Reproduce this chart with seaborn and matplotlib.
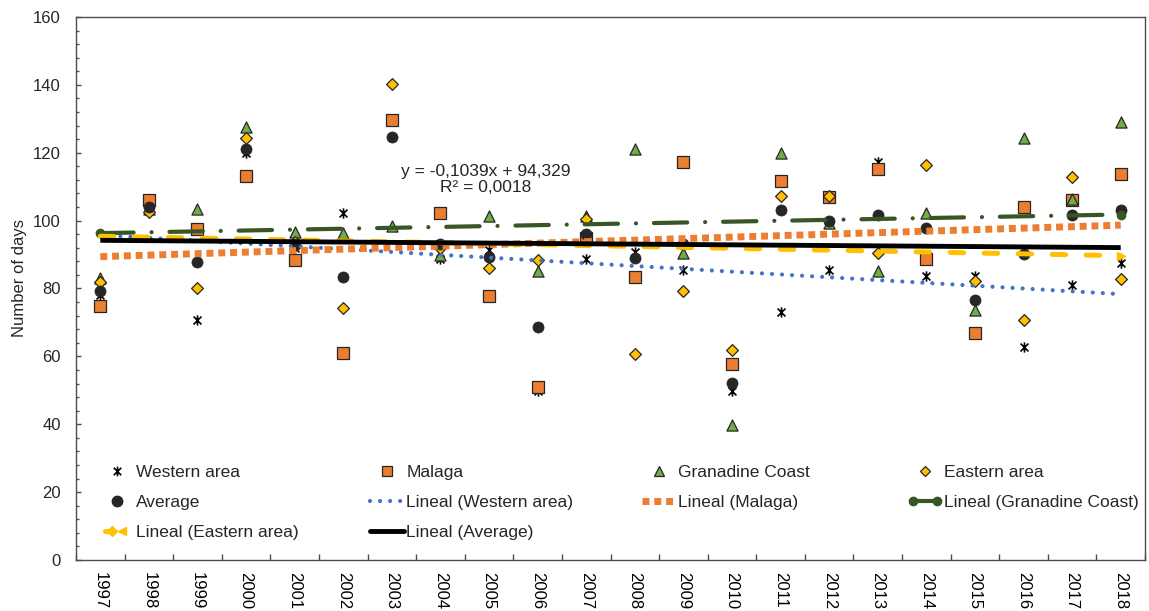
import numpy as np
import pandas as pd
import matplotlib
matplotlib.use("Agg")
import matplotlib.pyplot as plt
import seaborn as sns
from matplotlib.path import Path
from matplotlib.lines import Line2D
from matplotlib.legend_handler import HandlerLine2D, HandlerTuple
from matplotlib.ticker import MultipleLocator, FixedLocator

# ---------------- data ----------------
years = [1997, 1998, 1999, 2000, 2001, 2002, 2003, 2004, 2005, 2006, 2007,
         2008, 2009, 2010, 2011, 2012, 2013, 2014, 2015, 2016, 2017, 2018]
western = [78.2, 103.8, 70.6, 120.0, 92.0, 102.1, 129.6, 88.6, 91.3, 49.9, 88.6,
           90.7, 85.4, 49.9, 73.1, 85.4, 117.3, 83.6, 83.6, 62.7, 81.0, 87.4]
malaga = [74.8, 106.1, 97.6, 113.2, 88.4, 61.0, 129.6, 102.3, 77.7, 51.1, 95.0,
          83.3, 117.3, 57.8, 111.7, 107.1, 115.1, 88.8, 66.9, 104.0, 106.1, 113.7]
granadine = [83.2, 103.5, 103.5, 127.6, 96.6, 96.4, 98.4, 90.0, 101.5, 85.1, 101.4,
             121.2, 90.5, 39.9, 120.0, 99.4, 85.1, 102.3, 73.8, 124.2, 106.5, 129.1]
eastern = [81.9, 102.6, 80.0, 124.2, 93.8, 74.3, 140.4, 92.0, 85.9, 88.3, 100.6,
           60.7, 79.2, 62.0, 107.3, 107.3, 90.5, 116.3, 82.2, 70.6, 112.9, 82.7]
average = [79.4, 104.0, 87.9, 121.2, 92.7, 83.4, 124.5, 93.2, 89.3, 68.6, 96.2,
           89.0, 93.1, 52.3, 103.0, 99.8, 101.8, 97.7, 76.6, 90.3, 101.6, 103.1]
series_names = ["Western area", "Malaga", "Granadine Coast", "Eastern area", "Average"]
equation_text = "y = -0,1039x + 94,329\nR\u00b2 = 0,0018"
ylabel_text = "Number of days"

df = pd.DataFrame({
    "idx": np.arange(len(years)),
    "Western area": western,
    "Malaga": malaga,
    "Granadine Coast": granadine,
    "Eastern area": eastern,
    "Average": average,
})

# ---------------- style ----------------
sns.set_theme(style="white")
plt.rcParams["font.family"] = ["Liberation Sans", "DejaVu Sans"]

C_OR = "#ED7D31"
C_GR = "#70AD47"
C_GO = "#FFC000"
C_AV = "#262626"
C_BL = "#4472C4"
C_DG = "#375623"
EDGE = "#262626"

star = Path([(-1, -1), (1, 1), (-1, 1), (1, -1), (0, -1.3), (0, 1.3)],
            [Path.MOVETO, Path.LINETO] * 3)

fig = plt.figure(figsize=(11.49, 6.11), dpi=100)
ax = fig.add_axes([76 / 1149, 51 / 611, 1069 / 1149, 543 / 611])

# ---------------- markers ----------------
sns.scatterplot(data=df, x="idx", y="Western area", marker=star, s=55,
                color="black", edgecolor="black", linewidth=1.2, ax=ax,
                zorder=3, legend=False)
sns.scatterplot(data=df, x="idx", y="Malaga", marker="s", s=64,
                color=C_OR, edgecolor=EDGE, linewidth=0.9, ax=ax,
                zorder=3, legend=False)
sns.scatterplot(data=df, x="idx", y="Granadine Coast", marker="^", s=64,
                color=C_GR, edgecolor=EDGE, linewidth=0.9, ax=ax,
                zorder=3, legend=False)
sns.scatterplot(data=df, x="idx", y="Eastern area", marker="D", s=36,
                color=C_GO, edgecolor=EDGE, linewidth=0.9, ax=ax,
                zorder=3, legend=False)
sns.scatterplot(data=df, x="idx", y="Average", marker="o", s=64,
                color=C_AV, edgecolor=C_AV, linewidth=0.5, ax=ax,
                zorder=3, legend=False)

# ---------------- trend lines ----------------
sns.regplot(data=df, x="idx", y="Western area", scatter=False, ci=None, ax=ax,
            color=C_BL, line_kws=dict(lw=3.0, dashes=(0.01, 2.4),
                                      dash_capstyle="round", zorder=4))
sns.regplot(data=df, x="idx", y="Malaga", scatter=False, ci=None, ax=ax,
            color=C_OR, line_kws=dict(lw=5, dashes=(1, 0.7),
                                      dash_capstyle="butt", zorder=4))
sns.regplot(data=df, x="idx", y="Granadine Coast", scatter=False, ci=None, ax=ax,
            color=C_DG, line_kws=dict(lw=3.0, dashes=(8, 4.3, 0.01, 4.3),
                                      dash_capstyle="round", zorder=4,
                                      marker="o", markersize=6, markevery=[0, -1]))
sns.regplot(data=df, x="idx", y="Eastern area", scatter=False, ci=None, ax=ax,
            color=C_GO, line_kws=dict(lw=3.6, dashes=(2.7, 4.1),
                                      dash_capstyle="round", zorder=4,
                                      marker=">", markersize=6, markevery=[-1]))
sns.regplot(data=df, x="idx", y="Average", scatter=False, ci=None, ax=ax,
            color="black", line_kws=dict(lw=3.5, solid_capstyle="butt", zorder=4))

# ---------------- axes ----------------
ax.set_xlim(-0.5, len(years) - 0.5)
ax.set_ylim(0, 160)
ax.set_xticks(df["idx"])
ax.set_xticklabels([str(y) for y in years], rotation=-90, fontsize=12)
ax.xaxis.set_minor_locator(FixedLocator(np.arange(-0.5, len(years), 1.0)))
ax.tick_params(axis="x", which="major", length=0, pad=9, colors="black")
ax.tick_params(axis="x", which="minor", direction="in", length=4, width=1,
               color="#4d4d4d", bottom=True)
ax.yaxis.set_major_locator(MultipleLocator(20))
ax.yaxis.set_minor_locator(MultipleLocator(4))
ax.tick_params(axis="y", which="major", direction="in", length=3.5, width=1,
               color="#4d4d4d", pad=11, labelsize=12, left=True)
ax.tick_params(axis="y", which="minor", direction="in", length=2.5, width=1,
               color="#4d4d4d", left=True)
for sp in ax.spines.values():
    sp.set_visible(True)
    sp.set_color("#4d4d4d")
    sp.set_linewidth(1.0)
ax.set_xlabel("")
ax.set_ylabel(ylabel_text, fontsize=12)
ax.yaxis.set_label_coords(-0.046, 0.52)

ax.text(0.3835, 0.70, equation_text, transform=ax.transAxes, ha="center",
        va="center", fontsize=12.5, linespacing=1.1, multialignment="center",
        zorder=6)


# ---------------- legend ----------------
class EndMarkHandler(HandlerLine2D):
    """Line handle with two points, marker shown only at one end."""
    def __init__(self, which, **kw):
        super().__init__(numpoints=2, **kw)
        self.which = which

    def create_artists(self, *args, **kwargs):
        arts = super().create_artists(*args, **kwargs)
        for a in arts:
            a.set_markevery([self.which])
        return arts


hW = Line2D([], [], ls="none", marker=star, color="black", ms=7, mew=1.2)
hM = Line2D([], [], ls="none", marker="s", mfc=C_OR, mec=EDGE, ms=7.5, mew=0.9)
hG = Line2D([], [], ls="none", marker="^", mfc=C_GR, mec=EDGE, ms=7.5, mew=0.9)
hE = Line2D([], [], ls="none", marker="D", mfc=C_GO, mec=EDGE, ms=5.5, mew=0.9)
hA = Line2D([], [], ls="none", marker="o", mfc=C_AV, mec=C_AV, ms=7.5)
hLW = Line2D([], [], color=C_BL, lw=3.0, dashes=(0.01, 2.4), dash_capstyle="round")
hLM = Line2D([], [], color=C_OR, lw=5, dashes=(1, 0.7))
hLG = Line2D([], [], color=C_DG, lw=3.0, marker="o", ms=6)
hLE_line = Line2D([], [], color=C_GO, lw=3.6, dashes=(3.0, 3.0),
                  dash_capstyle="round", marker="D", ms=5.5)
hLE_arrow = Line2D([], [], ls="none", color=C_GO, marker="<", ms=6)
hLA = Line2D([], [], color="black", lw=3.5)

hmap = {
    hLG: HandlerLine2D(numpoints=2),
    hLE_line: EndMarkHandler(1),
    hLE_arrow: EndMarkHandler(0),
    tuple: HandlerTuple(ndivide=None),
}

columns = [
    ([hW, hA, (hLE_line, hLE_arrow)],
     ["Western area", "Average", "Lineal (Eastern area)"], 100),
    ([hM, hLW, hLA],
     ["Malaga", "Lineal (Western area)", "Lineal (Average)"], 370),
    ([hG, hLM], ["Granadine Coast", "Lineal (Malaga)"], 642),
    ([hE, hLG], ["Eastern area", "Lineal (Granadine Coast)"], 908),
]
legs = []
for handles, labels, xpix in columns:
    leg = ax.legend(handles, labels, loc="upper left",
                    bbox_to_anchor=((xpix - 76) / 1069, (560 - 465) / 543),
                    frameon=False, fontsize=12.5, handlelength=1.95,
                    handletextpad=0.15, labelspacing=0.84, borderpad=0,
                    borderaxespad=0, handler_map=hmap)
    leg.set_zorder(7)
    legs.append(leg)
for leg in legs[:-1]:
    ax.add_artist(leg)

fig.savefig("out.png", dpi=100)
